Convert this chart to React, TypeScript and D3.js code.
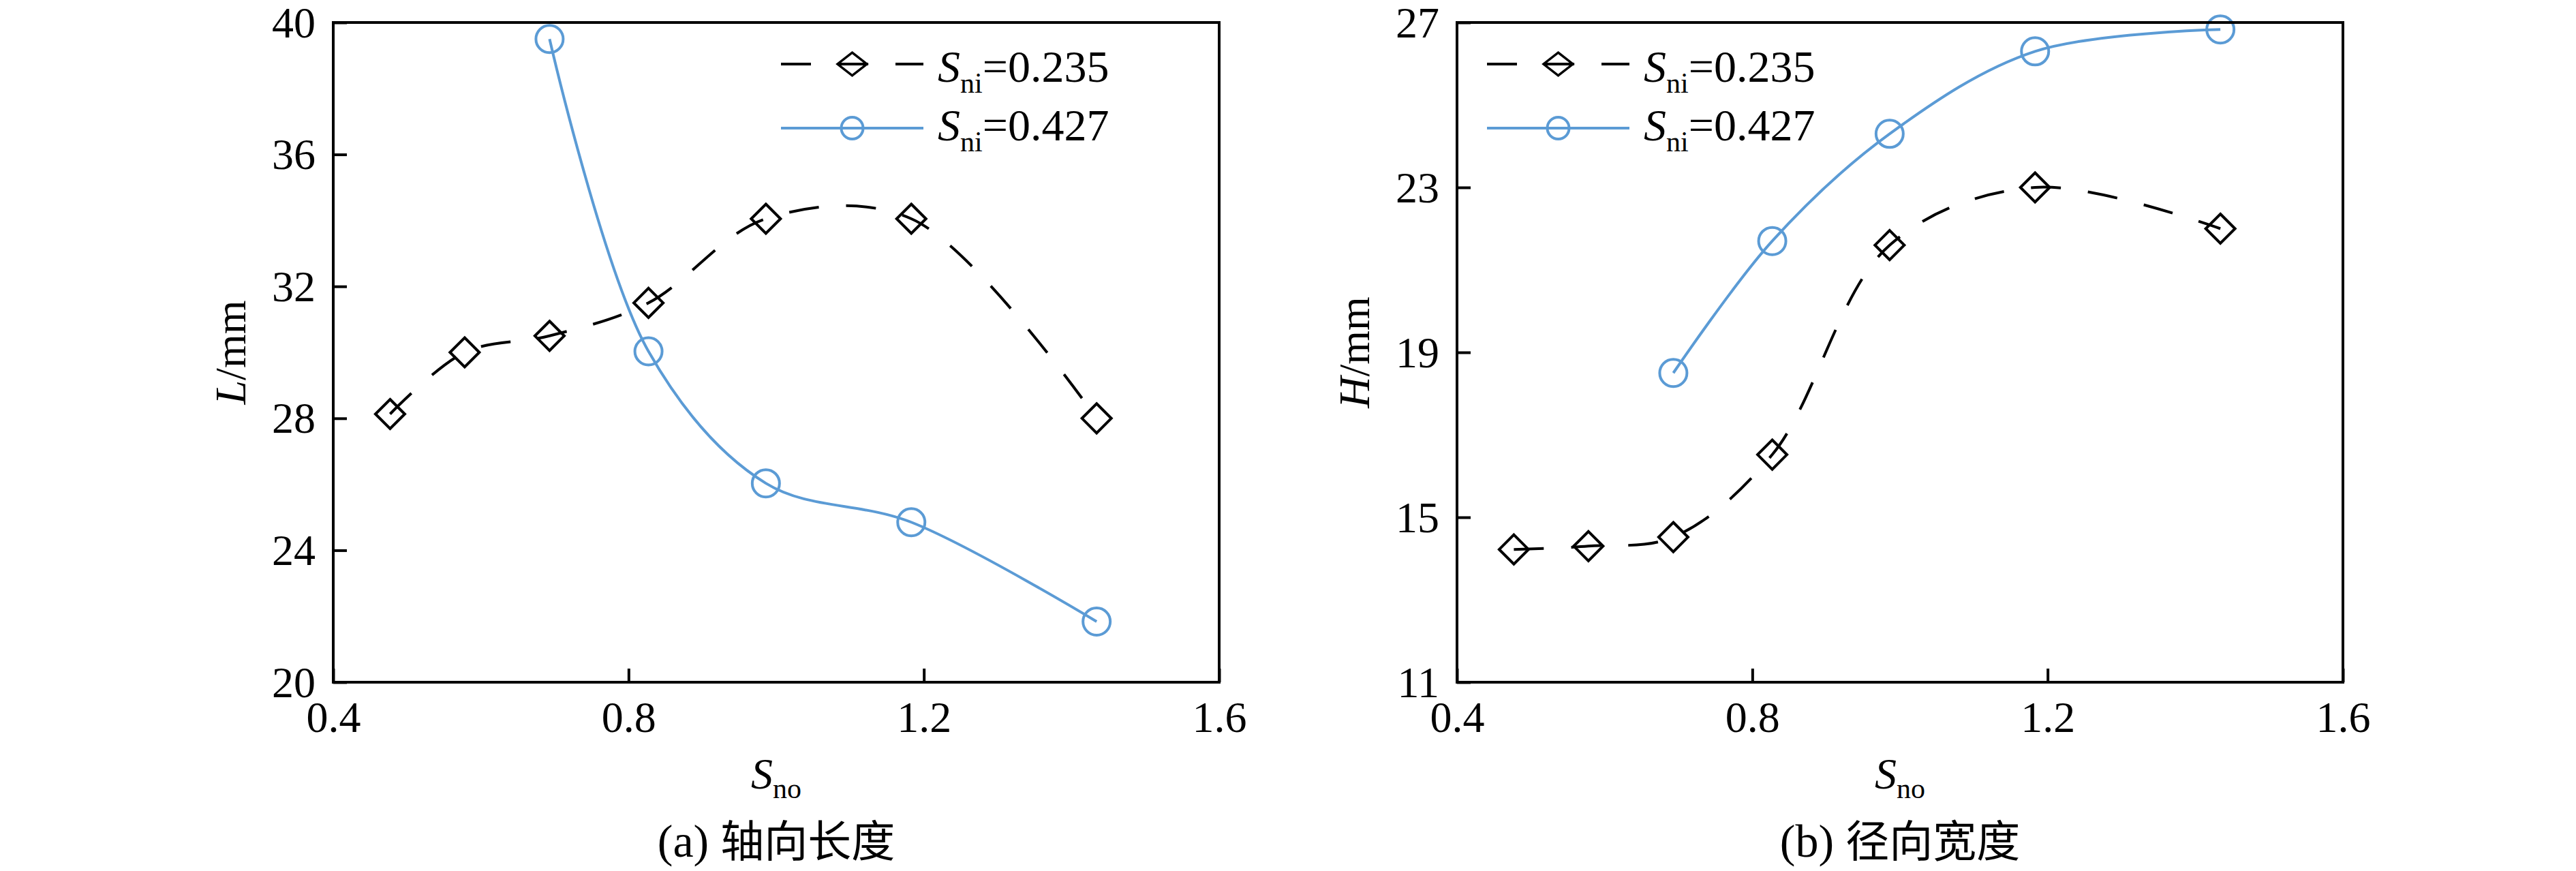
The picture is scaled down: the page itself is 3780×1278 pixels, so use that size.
import React, { useEffect, useRef } from 'react';
import * as d3 from 'd3';

// S_no values (x axis)
const sNoA = [0.477, 0.578, 0.693, 0.827, 0.986, 1.183, 1.434];
const sNoB = [0.693, 0.827, 0.986, 1.183, 1.434];

// (a) axial length L/mm
const lenA = [28.13, 30.0, 30.5, 31.5, 34.05, 34.05, 28.0];
const lenB = [39.5, 30.03, 26.03, 24.85, 21.84];

// (b) radial width H/mm
const widA = [14.22, 14.3, 14.52, 16.52, 21.6, 23.0, 22.0];
const widB = [18.5, 21.7, 24.3, 26.3, 26.83];

const xTicks = [0.4, 0.8, 1.2, 1.6];
const lTicks = [20, 24, 28, 32, 36, 40];
const hTicks = [11, 15, 19, 23, 27];

const seriesNames = ['0.235', '0.427'];

const W = 3780;
const H = 1278;
const TOP = 33;
const BOTTOM = 1001;
const SERIF = "'Liberation Serif', 'Times New Roman', serif";
const CJK = "'Noto Sans CJK SC', sans-serif";
const BLUE = '#5b9bd5';

const panels = [
  {
    x0: 489, x1: 1789, yDomain: [20, 40], yTicks: lTicks, yVar: 'L',
    a: lenA, b: lenB, tag: '(a) ', caption: '轴向长度', legendX: 1146,
  },
  {
    x0: 2138, x1: 3438, yDomain: [11, 27], yTicks: hTicks, yVar: 'H',
    a: widA, b: widB, tag: '(b) ', caption: '径向宽度', legendX: 2182,
  },
];

const drawPanel = (svg: any, p: any) => {
  const x = d3.scaleLinear().domain([0.4, 1.6]).range([p.x0, p.x1]);
  const y = d3.scaleLinear().domain(p.yDomain).range([BOTTOM, TOP]);
  const g = svg.append('g');

  const line = d3.line<[number, number]>()
    .x(d => x(d[0]))
    .y(d => y(d[1]))
    .curve(d3.curveCatmullRom.alpha(0.5));

  const ptsA = d3.zip(sNoA, p.a) as [number, number][];
  const ptsB = d3.zip(sNoB, p.b) as [number, number][];

  // dashed black series
  g.append('path')
    .datum(ptsA)
    .attr('d', line)
    .attr('fill', 'none')
    .attr('stroke', '#000')
    .attr('stroke-width', 4)
    .attr('stroke-dasharray', '44 40');

  // solid blue series
  g.append('path')
    .datum(ptsB)
    .attr('d', line)
    .attr('fill', 'none')
    .attr('stroke', BLUE)
    .attr('stroke-width', 4);

  const diamond = d3.symbol(d3.symbolDiamond2, 1180);
  g.selectAll('.dia')
    .data(ptsA)
    .join('path')
    .attr('transform', (d: any) => `translate(${x(d[0])},${y(d[1])})`)
    .attr('d', diamond)
    .attr('fill', 'none')
    .attr('stroke', '#000')
    .attr('stroke-width', 4)
    .attr('stroke-linejoin', 'miter');

  g.selectAll('.cir')
    .data(ptsB)
    .join('circle')
    .attr('cx', (d: any) => x(d[0]))
    .attr('cy', (d: any) => y(d[1]))
    .attr('r', 20)
    .attr('fill', 'none')
    .attr('stroke', BLUE)
    .attr('stroke-width', 4);

  // axes with inward ticks
  g.append('g')
    .attr('transform', `translate(0,${BOTTOM})`)
    .call(d3.axisBottom(x).tickValues(xTicks).tickFormat(d3.format('.1f')).tickSizeInner(-20).tickSizeOuter(0))
    .call((a: any) => a.select('.domain').remove())
    .call((a: any) => a.selectAll('line').attr('stroke', '#000').attr('stroke-width', 4))
    .call((a: any) => a.selectAll('text')
      .attr('y', 73).attr('dy', null)
      .attr('font-size', 64).attr('font-family', SERIF).attr('fill', '#000'));

  g.append('g')
    .attr('transform', `translate(${p.x0},0)`)
    .call(d3.axisLeft(y).tickValues(p.yTicks).tickFormat(d3.format('d')).tickSizeInner(-20).tickSizeOuter(0))
    .call((a: any) => a.select('.domain').remove())
    .call((a: any) => a.selectAll('line').attr('stroke', '#000').attr('stroke-width', 4))
    .call((a: any) => a.selectAll('text')
      .attr('x', -26).attr('dy', '0.33em')
      .attr('font-size', 64).attr('font-family', SERIF).attr('fill', '#000'));

  // frame
  g.append('rect')
    .attr('x', p.x0)
    .attr('y', TOP)
    .attr('width', p.x1 - p.x0)
    .attr('height', BOTTOM - TOP)
    .attr('fill', 'none')
    .attr('stroke', '#000')
    .attr('stroke-width', 4);

  // y label
  const yl = g.append('text')
    .attr('transform', `translate(${p.x0 - 129},${(TOP + BOTTOM) / 2}) rotate(-90)`)
    .attr('text-anchor', 'middle')
    .attr('font-family', SERIF)
    .attr('font-size', 64);
  yl.append('tspan').attr('font-style', 'italic').text(p.yVar);
  yl.append('tspan').text('/mm');

  // x label
  const cx = (p.x0 + p.x1) / 2;
  const xl = g.append('text')
    .attr('x', cx)
    .attr('y', 1157)
    .attr('text-anchor', 'middle')
    .attr('font-family', SERIF)
    .attr('font-size', 64);
  xl.append('tspan').attr('font-style', 'italic').text('S');
  xl.append('tspan').attr('font-size', 42).attr('dy', 14).text('no');

  // caption
  const cap = g.append('text')
    .attr('x', cx)
    .attr('y', 1257)
    .attr('text-anchor', 'middle')
    .attr('font-size', 66);
  cap.append('tspan').attr('font-family', SERIF).attr('font-size', 68).text(p.tag);
  cap.append('tspan').attr('font-family', CJK).attr('font-size', 64).text(p.caption);

  // legend
  const lx0 = p.legendX;
  const lx1 = p.legendX + 209;
  const lm = (lx0 + lx1) / 2;
  const rows = [94, 188];
  const textRows = [120, 206];

  g.append('line')
    .attr('x1', lx0).attr('x2', lx1).attr('y1', rows[0]).attr('y2', rows[0])
    .attr('stroke', '#000').attr('stroke-width', 4).attr('stroke-dasharray', '44 40');
  g.append('path')
    .attr('transform', `translate(${lm},${rows[0]}) scale(1,0.78)`)
    .attr('d', diamond)
    .attr('fill', 'none')
    .attr('stroke', '#000')
    .attr('stroke-width', 4);

  g.append('line')
    .attr('x1', lx0).attr('x2', lx1).attr('y1', rows[1]).attr('y2', rows[1])
    .attr('stroke', BLUE).attr('stroke-width', 4);
  g.append('circle')
    .attr('cx', lm).attr('cy', rows[1]).attr('r', 16)
    .attr('fill', 'none').attr('stroke', BLUE).attr('stroke-width', 4);

  seriesNames.forEach((name, i) => {
    const t = g.append('text')
      .attr('x', lx1 + 21)
      .attr('y', textRows[i])
      .attr('font-family', SERIF)
      .attr('font-size', 66);
    t.append('tspan').attr('font-style', 'italic').text('S');
    t.append('tspan').attr('font-size', 42).attr('dy', 16).text('ni');
    t.append('tspan').attr('dy', -16).text('=' + name);
  });
};

const App = () => {
  const ref = useRef<SVGSVGElement>(null);

  useEffect(() => {
    const svg = d3.select(ref.current);
    svg.selectAll('*').remove();
    panels.forEach(p => drawPanel(svg, p));
  }, []);

  return (
    <svg
      ref={ref}
      width={W}
      height={H}
      style={{ position: 'absolute', left: 0, top: 0, background: '#fff', display: 'block' }}
    />
  );
};

export default App;
